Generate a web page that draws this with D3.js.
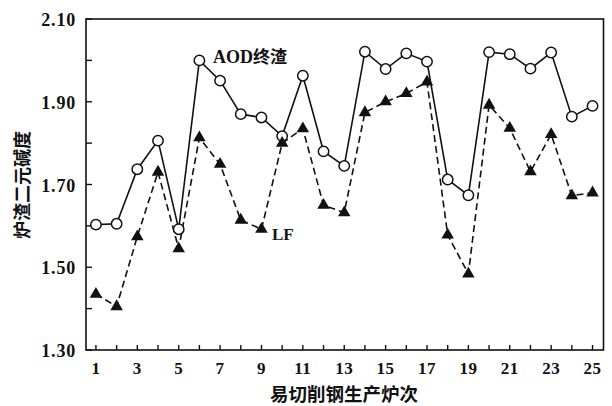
<!DOCTYPE html>
<html>
<head>
<meta charset="utf-8">
<script src="https://cdn.jsdelivr.net/npm/d3@7"></script>
<style>
  html, body { margin: 0; padding: 0; background: #fff; }
  svg { display: block; }
  .tick-label { font-family: "Liberation Serif", "Times New Roman", serif; font-weight: bold; fill: #111; }
  .cjk { font-family: "Noto Sans CJK SC", sans-serif; font-weight: bold; fill: #111; }
</style>
</head>
<body>
<svg id="chart" width="612" height="406"></svg>
<script>
// Heat numbers (易切削钢生产炉次)
const heats = d3.range(1, 26);
// Binary basicity of AOD final slag
const aodValues = [1.603, 1.605, 1.737, 1.806, 1.592, 2.000, 1.951, 1.870, 1.862, 1.817,
                   1.963, 1.780, 1.745, 2.021, 1.979, 2.017, 1.997, 1.712, 1.674, 2.020,
                   2.015, 1.980, 2.019, 1.864, 1.890];
// Binary basicity of LF slag
const lfValues = [1.435, 1.405, 1.574, 1.730, 1.545, 1.813, 1.749, 1.614, 1.592, 1.800,
                  1.835, 1.650, 1.632, 1.874, 1.900, 1.920, 1.948, 1.578, 1.484, 1.892,
                  1.836, 1.731, 1.821, 1.673, 1.680];
const yTicks = [1.30, 1.50, 1.70, 1.90, 2.10];
const yMinorTicks = [1.40, 1.60, 1.80, 2.00];
const xLabelTicks = [1, 3, 5, 7, 9, 11, 13, 15, 17, 19, 21, 23, 25];

const svg = d3.select("#chart");
const plotL = 86, plotT = 19, plotR = 603.5, plotB = 350;

const x = d3.scaleLinear().domain([0.52, 25.53]).range([plotL, plotR]);
const y = d3.scaleLinear().domain([1.30, 2.10]).range([plotB, plotT]);

// inward tick marks
const g = svg.append("g").attr("stroke", "#111").attr("stroke-width", 1.4);
g.selectAll("line.ym").data(yTicks.concat(yMinorTicks)).join("line")
  .attr("x1", plotL).attr("x2", plotL + 6)
  .attr("y1", d => y(d)).attr("y2", d => y(d));
g.selectAll("line.xm").data(heats).join("line")
  .attr("x1", d => x(d)).attr("x2", d => x(d))
  .attr("y1", plotB).attr("y2", plotB - 5);

// frame
svg.append("rect")
  .attr("x", plotL).attr("y", plotT)
  .attr("width", plotR - plotL).attr("height", plotB - plotT)
  .attr("fill", "none").attr("stroke", "#111").attr("stroke-width", 1.6);

// y tick labels
svg.selectAll("text.yl").data(yTicks).join("text")
  .attr("class", "tick-label")
  .attr("x", plotL - 10).attr("y", d => y(d) + 7)
  .attr("text-anchor", "end")
  .attr("font-size", 18)
  .attr("letter-spacing", 0.8)
  .text(d => d3.format(".2f")(d));

// x tick labels
svg.selectAll("text.xl").data(xLabelTicks).join("text")
  .attr("class", "tick-label")
  .attr("x", d => x(d)).attr("y", 374)
  .attr("text-anchor", "middle")
  .attr("font-size", 17)
  .attr("letter-spacing", 0.5)
  .text(d => d);

// axis titles
svg.append("text").attr("class", "cjk")
  .attr("x", 344).attr("y", 401)
  .attr("text-anchor", "middle")
  .attr("font-size", 18.5)
  .text("易切削钢生产炉次");
svg.append("text").attr("class", "cjk")
  .attr("transform", "translate(29,185) rotate(-90)")
  .attr("text-anchor", "middle")
  .attr("font-size", 18)
  .text("炉渣二元碱度");

// series lines
const line = d3.line().x((d, i) => x(heats[i])).y(d => y(d));
svg.append("path").datum(aodValues)
  .attr("d", line).attr("fill", "none")
  .attr("stroke", "#111").attr("stroke-width", 1.6);
svg.append("path").datum(lfValues)
  .attr("d", line).attr("fill", "none")
  .attr("stroke", "#111").attr("stroke-width", 1.6)
  .attr("stroke-dasharray", "7,4");

// markers
svg.selectAll("circle.aod").data(aodValues).join("circle")
  .attr("cx", (d, i) => x(heats[i])).attr("cy", d => y(d))
  .attr("r", 5.2).attr("fill", "#fff")
  .attr("stroke", "#111").attr("stroke-width", 1.5);
const tri = d3.symbol().type(d3.symbolTriangle).size(68);
svg.selectAll("path.lf").data(lfValues).join("path")
  .attr("transform", (d, i) => `translate(${x(heats[i])},${y(d)})`)
  .attr("d", tri).attr("fill", "#111");

// series labels
svg.append("text").attr("font-size", 18)
  .attr("x", 213).attr("y", 63)
  .call(t => {
    t.append("tspan").attr("class", "tick-label").text("AOD");
    t.append("tspan").attr("class", "cjk").attr("font-size", 17).text("终渣");
  });
svg.append("text").attr("class", "tick-label")
  .attr("font-size", 17)
  .attr("x", 272).attr("y", 240)
  .text("LF");
</script>
</body>
</html>
